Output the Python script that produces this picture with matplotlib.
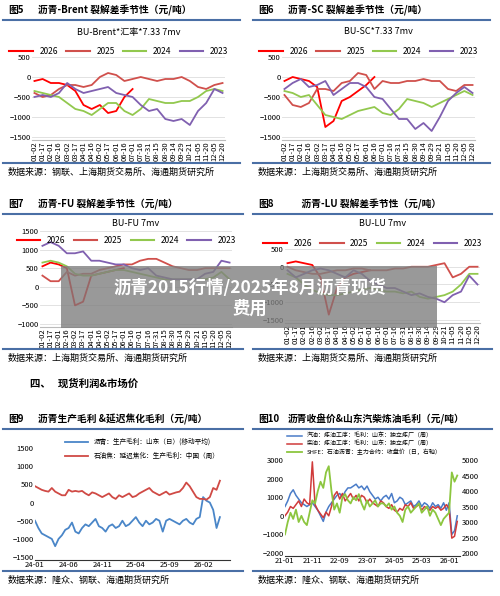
import numpy as np
import matplotlib
matplotlib.use('Agg')
import matplotlib.pyplot as plt
from matplotlib.lines import Line2D
from matplotlib.patches import Rectangle

plt.rcParams['font.family'] = ['Noto Sans CJK SC', 'DejaVu Sans']

W, H = 500, 596

# ---- seasonal data (24 points per year) ----
season_ticks = ['01-02', '01-17', '02-01', '02-16', '03-02', '03-17', '04-01', '04-16',
                '05-02', '05-17', '06-01', '06-16', '07-01', '07-16', '07-31', '08-15',
                '08-30', '09-14', '09-29', '10-21', '11-05', '11-20', '12-05', '12-20']

brent_2026 = [-100, -50, -150, -150, -200, -350, -700, -800, -700, -900, -850, -500, -300]
brent_2025 = [-400, -500, -450, -300, -200, -200, -250, -200, 0, 100, 50, -100, -50, 0, -50, -100,
              -50, -50, 0, -100, -250, -300, -200, -150]
brent_2024 = [-350, -400, -450, -500, -650, -800, -850, -950, -800, -650, -650, -850, -950, -800,
              -550, -600, -650, -650, -600, -600, -500, -350, -300, -350]
brent_2023 = [-500, -450, -500, -400, -150, -300, -400, -350, -300, -250, -400, -450, -500, -700,
              -850, -800, -1050, -1100, -1050, -1200, -850, -650, -300, -400]

sc_2026 = [-100, 0, -50, -100, -250, -1250, -1100, -600, -500, -350, -200, 0]
sc_2025 = [-450, -700, -750, -650, -300, -300, -350, -150, -100, 100, 50, -300, -100, -150, -150,
           -100, -100, -50, -100, -100, -300, -350, -200, -200]
sc_2024 = [-350, -400, -500, -450, -700, -950, -1000, -1050, -950, -850, -800, -750, -900, -950,
           -800, -550, -600, -650, -750, -650, -550, -450, -350, -450]
sc_2023 = [-300, -150, -50, -250, -200, -100, -450, -300, -150, -150, -250, -500, -550, -800, -1050,
           -1050, -1300, -1150, -1350, -1000, -600, -400, -250, -400]

fu_2026 = [550, 650, 600, 500, -500, -400, 300, 350, 400, 450, 500]
fu_2025 = [300, 150, 150, 400, 300, 350, 350, 450, 500, 550, 600, 600, 700, 750, 750, 650, 550, 500,
           450, 450, 500, 500, 500, 500]
fu_2024 = [650, 700, 650, 550, 350, 300, 300, 350, 400, 450, 450, 400, 350, 300, 250, 200, 200, 200,
           200, 200, 200, 250, 400, 200]
fu_2023 = [1100, 1200, 1100, 900, 900, 950, 700, 700, 650, 600, 600, 500, 450, 500, 300, 250, 200,
           200, 200, 200, 350, 400, 700, 650]

lu_2026 = [100, 150, 100, 50, -300, -1350, -600, -300, -200, -150, -100]
lu_2025 = [0, -100, -150, -200, -200, -150, -100, -100, -50, -50, -100, -100, -100, -50, -50, 0, 0,
           0, 50, 100, -300, -200, 0, 0]
lu_2024 = [-200, -300, -500, -650, -750, -800, -800, -750, -700, -650, -600, -650, -700, -700, -750,
           -700, -850, -900, -850, -800, -700, -500, -200, -200]
lu_2023 = [-100, -300, -200, -100, -50, -100, -200, -300, -100, -200, -400, -500, -600, -600, -700,
           -800, -750, -850, -900, -1000, -800, -700, -250, -500]

# ---- fig 9 (half-month steps from 24-01) ----
f9_ticks = ['24-01', '24-06', '24-11', '25-04', '25-09', '26-02']
f9_bu = [-500, -700, -850, -900, -950, -1000, -1200, -1000, -900, -750, -700, -550, -800, -850,
         -700, -600, -650, -550, -450, -650, -700, -800, -650, -600, -700, -650, -500, -650, -600,
         -500, -400, -550, -650, -500, -600, -550, -450, -500, -800, -500, -450, -500, -550, -600,
         -500, -450, -550, -600, -450, -400, 150, 50, 0, -200, -700, -400]
f9_coke = [450, 400, 350, 320, 300, 400, 300, 250, 200, 200, 350, 300, 320, 300, 320, 250, 200, 280,
           250, 200, 150, 200, 250, 150, 100, 200, 150, 200, 250, 150, 180, 250, 300, 350, 400, 300,
           250, 200, 250, 300, 220, 250, 280, 300, 400, 550, 450, 300, 150, 100, 100, 80, 150, 400,
           350, 600]

# ---- fig 10 (monthly from 21-01) ----
f10_ticks = ['21-01', '21-11', '22-09', '23-07', '24-05', '25-03', '26-01']
f10_gas = [500, 800, 1200, 1400, 1100, 900, 700, 600, 500, 600, 700, 500,
           300, 0, -300, 200, 500, 700, 900, 1100, 1200, 1000, 1300, 1500,
           1500, 1600, 1700, 1500, 1600, 1400, 1600, 1300, 1100, 900, 1000, 800,
           1000, 1100, 900, 1200, 700, 800, 1000, 900, 600, 700, 800, 500,
           600, 800, 500, 700, 600, 400, 700, 500, 600, 400, 700, 300,
           700, -1000, -800, 0]
f10_diesel = [0, 200, 500, 400, 600, 800, 500, 900, 700, 600, 2900, 600,
              300, 100, -100, 200, 0, 500, 1100, 1300, 900, 1200, 800, 1000,
              1200, 900, 1100, 800, 1100, 1000, 700, 900, 700, 600, 500, 800,
              700, 500, 400, 600, 300, 200, 400, 300, 600, 500, 700, 400,
              500, 600, 300, 500, 400, 300, 500, 400, 500, 300, 400, 600,
              400, -1200, -1100, -300]
f10_shfe = [2600, 3000, 3300, 3100, 3400, 3000, 3200, 3000, 2900, 3300, 3700, 3600,
            4000, 4300, 4100, 4600, 4800, 4000, 3400, 3600, 3300, 3800, 3900, 3700,
            3600, 3800, 3700, 3900, 3600, 3400, 3700, 3500, 3600, 3700, 3500, 3600,
            3600, 3500, 3600, 3400, 3500, 3300, 3200, 3000, 3400, 3500, 3300, 3400,
            3500, 3600, 3300, 3400, 3500, 3200, 3400, 3300, 3100, 2900, 3100, 3200,
            3300, 4600, 4300, 4500]

C26, C25, C24, C23 = '#ff0000', '#d0504c', '#92c84e', '#8060b0'
HDR = '#4a6fa5'

fig = plt.figure(figsize=(W / 100, H / 100), dpi=100)


def pax(l, t, w, h):
    return fig.add_axes([l / W, 1 - (t + h) / H, w / W, h / H])


def ftext(x, y, s, **kw):
    fig.text(x / W, 1 - y / H, s, va='center', **kw)


def hline(x0, x1, y, lw=1.5):
    fig.add_artist(Line2D([x0 / W, x1 / W], [1 - y / H, 1 - y / H], color=HDR, lw=lw,
                          transform=fig.transFigure))


def style(ax):
    for s in ['top', 'right', 'left']:
        ax.spines[s].set_visible(False)
    ax.spines['bottom'].set_color('#bbbbbb')
    ax.grid(axis='y', color='#dddddd', lw=0.6)
    ax.set_axisbelow(True)
    ax.tick_params(labelsize=5.5, length=0, pad=1)


def panel_header(x0, y, num, title, src, y_src, x1):
    ftext(x0 + 8, y, num, fontsize=7, fontweight='bold')
    ftext(x0 + 38, y, title, fontsize=7, fontweight='bold')
    hline(x0 + 3, x1, y + 10)
    hline(x0 + 3, x1, y_src - 9)
    ftext(x0 + 8, y_src, src, fontsize=6.5)


def seasonal(l, t, w, h, ylim, yticks, subtitle, sub_y, series, legend_y):
    ax = pax(l, t, w, h)
    style(ax)
    n = len(season_ticks)
    x = np.arange(n)
    for data, c in series:
        ax.plot(x[:len(data)], data, color=c, lw=1.3)
    ax.set_xlim(-0.3, n - 0.7)
    ax.set_ylim(*ylim)
    ax.set_yticks(yticks)
    ax.set_xticks(x)
    ax.set_xticklabels(season_ticks, rotation=90)
    ax.legend([Line2D([], [], color=c, lw=1.5) for _, c in series],
              ['2026', '2025', '2024', '2023'], ncol=4, frameon=False, fontsize=6,
              loc='center', bbox_to_anchor=(0.45, legend_y), handlelength=2.8,
              columnspacing=1.0, borderaxespad=0)
    fig.text((l + w / 2) / W, 1 - sub_y / H, subtitle, ha='center', va='center', fontsize=6.5)
    return ax


src1 = '数据来源：钢联、上海期货交易所、海通期货研究所'
src2 = '数据来源：上海期货交易所、海通期货研究所'
src3 = '数据来源：隆众、钢联、海通期货研究所'

# row 1
panel_header(0, 10, '图5', '沥青-Brent 裂解差季节性（元/吨）', src1, 172, 240)
seasonal(32, 47, 193, 93, (-1575, 750), [-1500, -1000, -500, 0, 500], 'BU-Brent*汇率*7.33 7mv', 32,
         [(brent_2026, C26), (brent_2025, C25), (brent_2024, C24), (brent_2023, C23)], 0.95)
panel_header(250, 10, '图6', '沥青-SC 裂解差季节性（元/吨）', src2, 172, 490)
seasonal(282, 47, 193, 93, (-1575, 750), [-1500, -1000, -500, 0, 500], 'BU-SC*7.33 7mv', 32,
         [(sc_2026, C26), (sc_2025, C25), (sc_2024, C24), (sc_2023, C23)], 0.95)

# row 2
panel_header(0, 204, '图7', '沥青-FU 裂解差季节性（元/吨）', src2, 358, 243)
seasonal(40, 222, 192, 105, (-1080, 1740), [-1000, -500, 0, 500, 1000, 1500], 'BU-FU 7mv', 224,
         [(fu_2026, C26), (fu_2025, C25), (fu_2024, C24), (fu_2023, C23)], 0.82)
panel_header(250, 204, '图8', '      沥青-LU 裂解差季节性（元/吨）', src2, 358, 492)
seasonal(285, 238, 195, 85, (-1585, 810), [-1500, -1000, -500, 0, 500], 'BU-LU 7mv', 224,
         [(lu_2026, C26), (lu_2025, C25), (lu_2024, C24), (lu_2023, C23)], 0.94)

ftext(30, 384, '四、   现货利润&市场价', fontsize=7.5, fontweight='bold')

# fig 9
panel_header(0, 419, '图9', '沥青生产毛利 &延迟焦化毛利（元/吨）', src3, 580, 243)
ax9 = pax(35, 432, 195, 128)
style(ax9)
ax9.spines['bottom'].set_color('#333333')
x9 = np.arange(len(f9_bu)) / 2
ax9.plot(x9, f9_bu, color='#4a86c8', lw=1.3, label='沥青：生产毛利：山东（日）(移动平均)')
ax9.plot(x9, f9_coke, color='#d04a45', lw=1.3, label='石油焦：延迟焦化：生产毛利：中国（周）')
ax9.set_xlim(0, 29)
ax9.set_ylim(-1580, 1940)
ax9.set_yticks([-1500, -1000, -500, 0, 500, 1000, 1500])
ax9.set_xticks(np.arange(len(f9_ticks)) * 5)
ax9.set_xticklabels(f9_ticks)
ax9.grid(False)
ax9.legend(frameon=False, fontsize=4.8, loc='upper center', bbox_to_anchor=(0.55, 1.0),
           handlelength=3.5, labelspacing=0.9)
ax9.tick_params(labelsize=5.5)

# fig 10
panel_header(250, 419, '图10', '沥青收盘价&山东汽柴炼油毛利（元/吨）', src3, 580, 492)
ax10 = pax(285, 432, 175, 124)
style(ax10)
ax10.spines['bottom'].set_color('#333333')
x10 = np.arange(len(f10_gas))
ax10.plot(x10, f10_gas, color='#4a7cc8', lw=1.1, label='汽油：炼油工序：毛利：山东：独立炼厂（周）')
ax10.plot(x10, f10_diesel, color='#d03a3a', lw=1.1, label='柴油：炼油工序：毛利：山东：独立炼厂（周）')
ylL = (-2160, 4505)
ax10.set_ylim(*ylL)
ax10.set_xlim(0, 64)
ax10.set_yticks([-2000, -1000, 0, 1000, 2000, 3000])
ax10.set_xticks(np.arange(len(f10_ticks)) * 10)
ax10.set_xticklabels(f10_ticks)
ax10.grid(False)
axr = ax10.twinx()
axr.plot(x10, f10_shfe, color='#8cc63f', lw=1.3, label='SHFE：石油沥青：主力合约：收盘价（日，右轴）')
axr.set_ylim(2000 + 0.6 * (ylL[0] + 2000), 2000 + 0.6 * (ylL[1] + 2000))
axr.set_yticks([2000, 2500, 3000, 3500, 4000, 4500, 5000])
for s in ['top', 'right', 'left', 'bottom']:
    axr.spines[s].set_visible(False)
axr.tick_params(labelsize=5.5, length=0, pad=1)
h1, l1 = ax10.get_legend_handles_labels()
h2, l2 = axr.get_legend_handles_labels()
axr.legend(h1 + h2, l1 + l2, frameon=False, fontsize=4.3, loc='upper left',
           bbox_to_anchor=(-0.02, 1.04), handlelength=2.5, labelspacing=0.3)

# overlay banner
fig.add_artist(Rectangle((61 / W, 1 - 328 / H), 376 / W, 62 / H, transform=fig.transFigure,
                         facecolor='#808080', alpha=0.8, edgecolor='none'))
fig.text(0.5, 1 - 288 / H, '沥青2015行情/2025年8月沥青现货', ha='center', va='center',
         fontsize=12.5, color='white', fontweight='bold')
fig.text(0.5, 1 - 309 / H, '费用', ha='center', va='center', fontsize=12.5, color='white',
         fontweight='bold')

fig.savefig('out.png', dpi=100)
